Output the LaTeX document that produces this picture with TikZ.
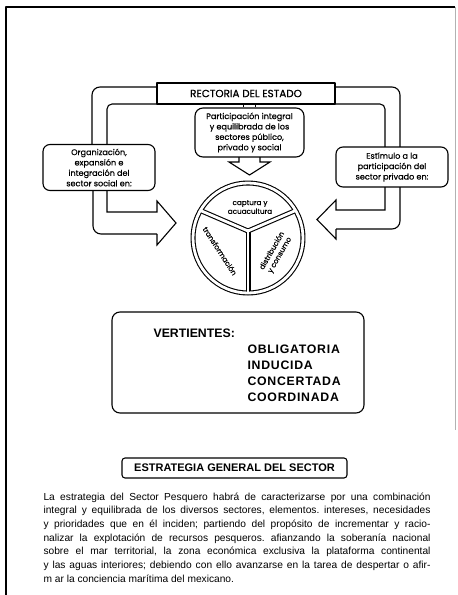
\documentclass[tikz,border=0pt]{standalone}
\usepackage{fontspec}
\setmainfont{Liberation Sans}
\newfontfamily\geo{Poppins}
\begin{document}
\begin{tikzpicture}[x=1pt,y=-1pt,line width=1.1pt,line join=round,
  lbl/.style={font=\geo\fontsize{8.1}{10.4}\selectfont\addfontfeature{FakeBold=0.6},align=center},
  roundbox/.style={draw,rounded corners=7pt,fill=white,align=center,inner sep=1pt,lbl},
  wheeltxt/.style={font=\geo\fontsize{7.2}{8.8}\selectfont\addfontfeature{FakeBold=0.6},align=center,inner sep=0pt},
  caps/.style={font=\bfseries\fontsize{12.3}{16}\selectfont,inner sep=0pt}]
\useasboundingbox (0,0) rectangle (458,595);

% page frame
\draw (6,595) -- (6,7) -- (455,7);
\draw[black!30,line width=0.6pt] (455,7) -- (455,430);

% upper band
\draw[rounded corners=8pt] (157,87) -- (92,87) -- (92,145);
\draw[rounded corners=8pt] (335,87) -- (400,87) -- (400,147);
\draw[rounded corners=5pt] (107,145) -- (107,104) -- (385,104) -- (385,147);

\node[draw,fill=white,minimum width=178pt,minimum height=21pt,inner sep=0pt,
      font=\geo\fontsize{10.4}{11}\selectfont\addfontfeature{FakeBold=0.8}] (rect) at (246,93.5) {RECTORIA DEL ESTADO};

\node[roundbox,minimum width=109pt,minimum height=49pt,rounded corners=8pt] (part) at (249.5,132.5)
  {Participación integral\\y equilibrada de los\\sectores público,\\privado y social};
\draw ([xshift=-6pt]part.north) -- ([xshift=-6pt]part.north |- rect.south);
\draw ([xshift=6pt]part.north) -- ([xshift=6pt]part.north |- rect.south);

\node[roundbox,minimum width=112pt,minimum height=46pt] (org) at (99,167.5)
  {Organización,\\expansión e\\integración del\\sector social en:};
\node[roundbox,minimum width=112pt,minimum height=40pt] (est) at (392,167)
  {Estímulo a la\\participación del\\sector privado en:};

% left lower band with arrow
\draw[rounded corners=8pt] (93,190.5) -- (93,234) -- (157,234);
\draw[line join=miter] (157,234) -- (157,245) -- (176,223) -- (157,201) -- (157,212) -- (107,212) -- (107,190.5);
% right lower band with arrow
\draw[line join=miter] (385,187) -- (385,210) -- (336,210) -- (336,200) -- (317,219.5) -- (336,239) -- (336,229);
\draw[rounded corners=8pt] (336,229) -- (400,229) -- (400,187);

% down arrow
\draw[line join=miter] (239,157) -- (239,162) -- (229,162) -- (249.5,175) -- (270,162) -- (260,162) -- (260,157);

% wheel
\coordinate (wc) at (248,238);
\coordinate (wj) at (248,231);
\draw[line width=5pt] (wc) circle[radius=55pt];
\draw[line width=5pt,line join=miter] (200.4,210.5) -- (wj) -- (295.6,210.5);
\draw[line width=5pt,line cap=butt] (wj) -- (248,293);
\draw[white,line width=2.8pt] (wc) circle[radius=55pt];
\draw[white,line width=2.8pt] (200.4,210.5) -- (wj) -- (295.6,210.5);
\draw[white,line width=2.8pt] (248,229) -- (248,294);

\node[wheeltxt] (t1) at (250,207) {captura y\\acuacultura};
\node[wheeltxt,rotate=-57] (t2) at (220,251) {transformación};
\node[wheeltxt,rotate=60] (t3) at (276,253) {distribución\\y consumo};

% vertientes
\node[draw,rounded corners=8pt,minimum width=252pt,minimum height=101pt] (vert) at (238,362.5) {};
\node[caps,anchor=west] (vt) at (153,333) {VERTIENTES:};
\node[caps,anchor=north west,align=left] (vl) at (247,344)
  {\addfontfeature{LetterSpace=6}OBLIGATORIA\\\addfontfeature{LetterSpace=6}INDUCIDA\\\addfontfeature{LetterSpace=6}CONCERTADA\\\addfontfeature{LetterSpace=6}COORDINADA};

% estrategia
\node[draw,rounded corners=3pt,minimum width=225pt,minimum height=20pt,inner sep=0pt,
      font=\bfseries\fontsize{11}{12}\selectfont] (estr) at (234.5,468) {ESTRATEGIA GENERAL DEL SECTOR};

\node[anchor=north west,inner sep=0pt,text width=387pt,align=justify,
      font=\fontsize{10.2}{13.7}\selectfont] (para) at (43,492)
{\frenchspacing\hyphenpenalty=10000 La estrategia del Sector Pesquero habrá de caracterizarse por una combinación\linebreak
integral y equilibrada de los diversos sectores, elementos. intereses, necesidades\linebreak
y prioridades que en él inciden; partiendo del propósito de incrementar y racio-\linebreak
nalizar la explotación de recursos pesqueros. afianzando la soberanía nacional\linebreak
sobre el mar territorial, la zona económica exclusiva la plataforma continental\linebreak
y las aguas interiores; debiendo con ello avanzarse en la tarea de despertar o afir-\linebreak
m ar la conciencia marítima del mexicano.};
\end{tikzpicture}
\end{document}
